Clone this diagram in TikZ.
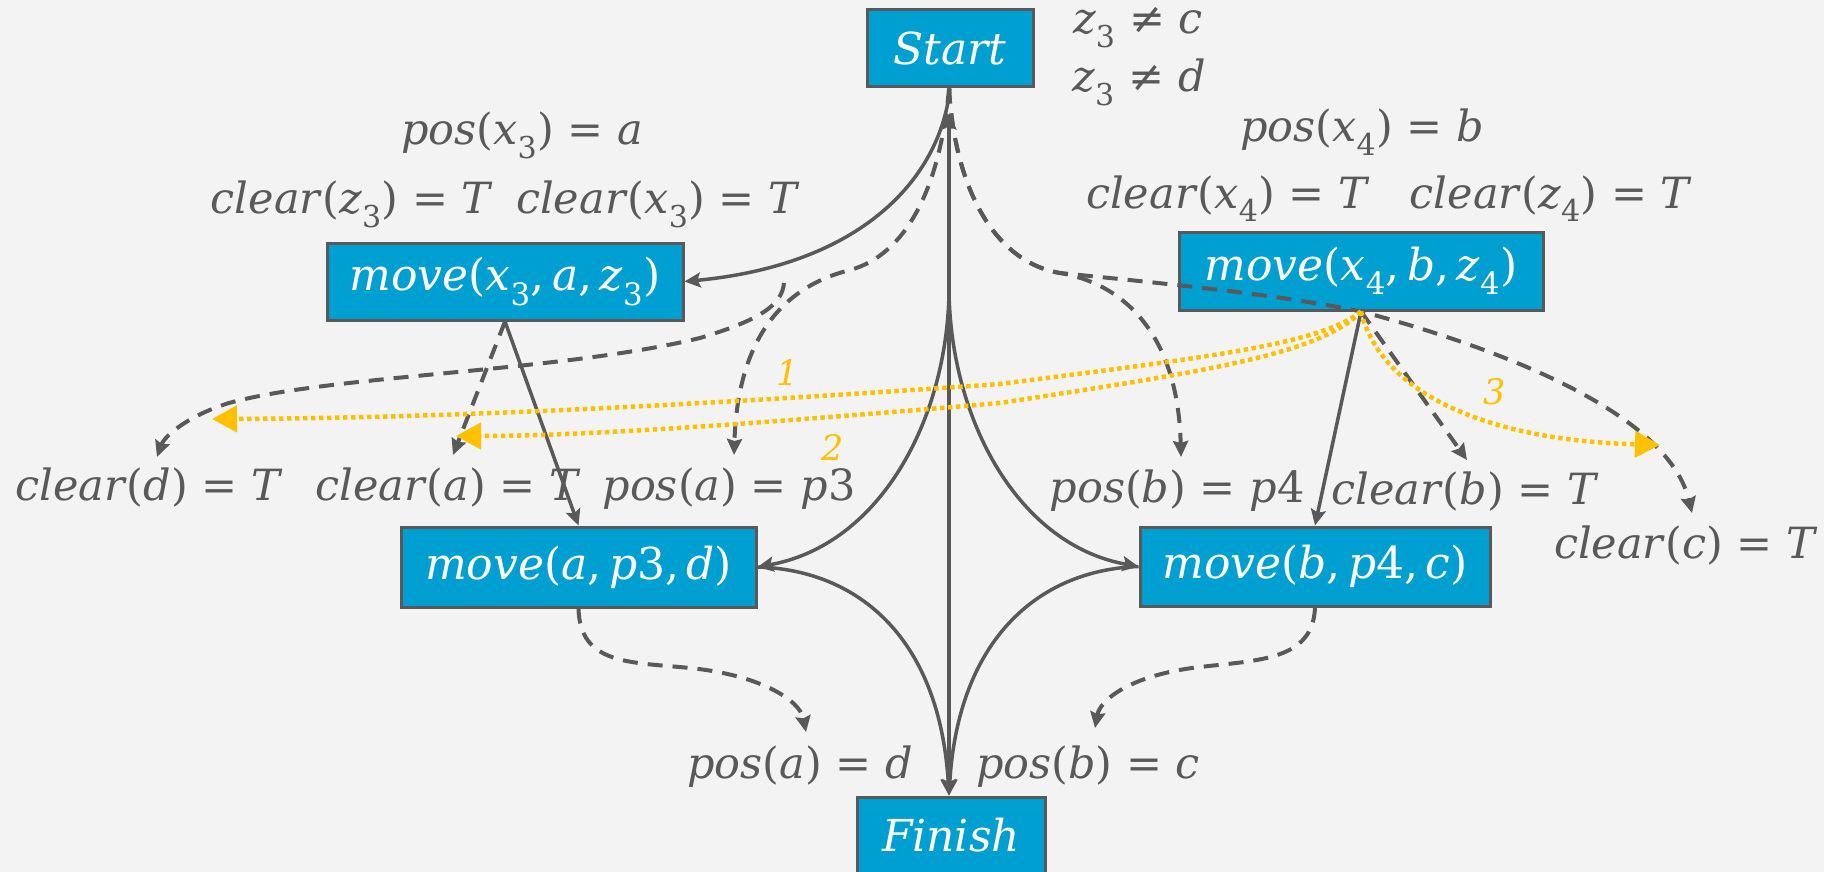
\documentclass[tikz,border=0pt]{standalone}
\usepackage{fontspec}
\setmainfont{DejaVu Serif}
\usetikzlibrary{arrows.meta}
\definecolor{bg}{HTML}{F3F3F3}
\definecolor{boxblue}{HTML}{009FD1}
\definecolor{dgray}{HTML}{595959}
\definecolor{ylw}{HTML}{FFC000}
\newcommand{\iv}[1]{\textit{#1}}
\newcommand{\sbs}[1]{\textsubscript{#1}}
\tikzset{
  box/.style={draw=dgray, line width=3pt, fill=boxblue, text=white,
    font=\fontsize{44}{50}\selectfont, inner sep=0pt},
  lbl/.style={text=dgray, font=\fontsize{43}{48}\selectfont, inner sep=0pt, anchor=base},
  sol/.style={draw=dgray, line width=3.5pt, -{Stealth[length=16pt,width=15pt,inset=3pt]}},
  dsh/.style={draw=dgray, line width=4pt, dash pattern=on 15pt off 10pt,
    -{Stealth[length=16pt,width=15pt,inset=2pt]}},
  dotl/.style={draw=ylw, line width=4.5pt, dash pattern=on 4.5pt off 3.5pt,
    -{Triangle[length=25pt,width=26pt]}},
  num/.style={text=ylw, font=\fontsize{35}{40}\selectfont\itshape, inner sep=0pt},
}
\begin{document}
\begin{tikzpicture}[x=1pt,y=-1pt]
\useasboundingbox (0,0) rectangle (1824,872);
\fill[bg] (0,0) rectangle (1824,872);

% boxes
\node[box, minimum width=166pt, minimum height=77pt] (S) at (950,48.5) {\iv{Start}};
\node[box, minimum width=356pt, minimum height=77pt] (m3) at (505,281.5) {\iv{move}(\iv{x}\sbs{3},\,\iv{a},\,\iv{z}\sbs{3})};
\node[box, minimum width=364pt, minimum height=78pt] (m4) at (1361,271) {\iv{move}(\iv{x}\sbs{4},\,\iv{b},\,\iv{z}\sbs{4})};
\node[box, minimum width=355pt, minimum height=80pt] (ma) at (578.5,567) {\iv{move}(\iv{a},\,\iv{p}3,\,\iv{d})};
\node[box, minimum width=350pt, minimum height=79pt] (mb) at (1315,566.5) {\iv{move}(\iv{b},\,\iv{p}4,\,\iv{c})};
\node[box, minimum width=188pt, minimum height=77pt] (F) at (951,835.5) {\iv{Finish}};

% labels
\node[lbl] (zc) at (1138,34) {\iv{z}\sbs{3} ≠ \iv{c}};
\node[lbl] (zd) at (1139,92) {\iv{z}\sbs{3} ≠ \iv{d}};
\node[lbl] (px3) at (522,145) {\iv{pos}(\iv{x}\sbs{3}) = \iv{a}};
\node[lbl] (cz3) at (352,214) {\iv{clear}(\iv{z}\sbs{3}) = \iv{T}};
\node[lbl] (cx3) at (658,214) {\iv{clear}(\iv{x}\sbs{3}) = \iv{T}};
\node[lbl] (px4) at (1362,142) {\iv{pos}(\iv{x}\sbs{4}) = \iv{b}};
\node[lbl] (cx4) at (1228,208) {\iv{clear}(\iv{x}\sbs{4}) = \iv{T}};
\node[lbl] (cz4) at (1551,208) {\iv{clear}(\iv{z}\sbs{4}) = \iv{T}};
\node[lbl] (cd) at (149,500) {\iv{clear}(\iv{d}) = \iv{T}};
\node[lbl] (ca) at (448,500) {\iv{clear}(\iv{a}) = \iv{T}};
\node[lbl] (pa3) at (729,500) {\iv{pos}(\iv{a}) = \iv{p}3};
\node[lbl] (pb4) at (1177,502) {\iv{pos}(\iv{b}) = \iv{p}4};
\node[lbl] (cb) at (1465,504) {\iv{clear}(\iv{b}) = \iv{T}};
\node[lbl] (cc) at (1686,558) {\iv{clear}(\iv{c}) = \iv{T}};
\node[lbl] (pad) at (800,778) {\iv{pos}(\iv{a}) = \iv{d}};
\node[lbl] (pbc) at (1088,778) {\iv{pos}(\iv{b}) = \iv{c}};

% free ends
\coordinate (J) at (949,292);
\coordinate (LD) at (784,283);
\coordinate (tD) at (157,457);
\coordinate (tA) at (453,455);
\coordinate (tP3) at (734,455);
\coordinate (tP4) at (1181,457);
\coordinate (tB) at (1467,460);
\coordinate (tC) at (1692,513);
\coordinate (tAd) at (806,732);
\coordinate (tBc) at (1095,728);
\coordinate (tY1) at (212,419);
\coordinate (tY2) at (456,436);
\coordinate (tY3) at (1660,445);

% solid connectors
\draw[sol] (S.south) .. controls (940,180) and (860,265) .. (m3.east);
\draw[sol, {Stealth[length=16pt,width=15pt,inset=3pt]}-{Stealth[length=16pt,width=15pt,inset=3pt]}, shorten <=25pt] (S.south -| J) -- (F.north -| J);
\draw[sol] (J) .. controls (947,420) and (880,545) .. (ma.east);
\draw[sol] (J) .. controls (951,420) and (1018,545) .. (mb.west);
\draw[sol] (ma.east) .. controls (860,570) and (940,640) .. (F.north -| J);
\draw[sol] (mb.west) .. controls (1038,570) and (958,640) .. (F.north -| J);
\draw[sol] (m3.south) -- (ma.north);
\draw[sol] (m4.south) -- (mb.north);

% dashed causal links
\draw[dsh] (S.south -| J) .. controls (940,190) and (905,255) .. (850,270)
   .. controls (790,285) and (738,330) .. (tP3);
\draw[dsh] (LD) .. controls (782,305) and (760,320) .. (700,338)
   .. controls (560,372) and (330,375) .. (229,403)
   .. controls (190,415) and (165,435) .. (tD);
\draw[dsh] (S.south -| J) .. controls (955,190) and (995,262) .. (1060,273)
   .. controls (1120,283) and (1178,330) .. (tP4);
\draw[dsh] (S.south -| J) .. controls (955,190) and (995,262) .. (1060,273)
   .. controls (1180,285) and (1280,295) .. (m4.south)
   .. controls (1450,335) and (1665,400) .. (tC);
\draw[dsh] (m3.south) -- (tA);
\draw[dsh] (m4.south) -- (tB);
\draw[dsh] (ma.south) .. controls (580,665) and (630,662) .. (690,668)
   .. controls (760,675) and (800,700) .. (tAd);
\draw[dsh] (mb.south) .. controls (1313,660) and (1260,660) .. (1200,667)
   .. controls (1130,675) and (1100,700) .. (tBc);

% threats
\draw[dotl] (m4.south) .. controls (1320,345) and (1200,358) .. (1000,384)
   .. controls (700,405) and (450,418) .. (tY1);
\draw[dotl] (m4.south) .. controls (1320,355) and (1200,372) .. (1000,403)
   .. controls (800,420) and (600,436) .. (tY2);
\draw[dotl] (m4.south) .. controls (1380,390) and (1480,440) .. (tY3);
\node[num] (n1) at (788,373) {1};
\node[num] (n2) at (833,448) {2};
\node[num] (n3) at (1495,392) {3};
\end{tikzpicture}
\end{document}
